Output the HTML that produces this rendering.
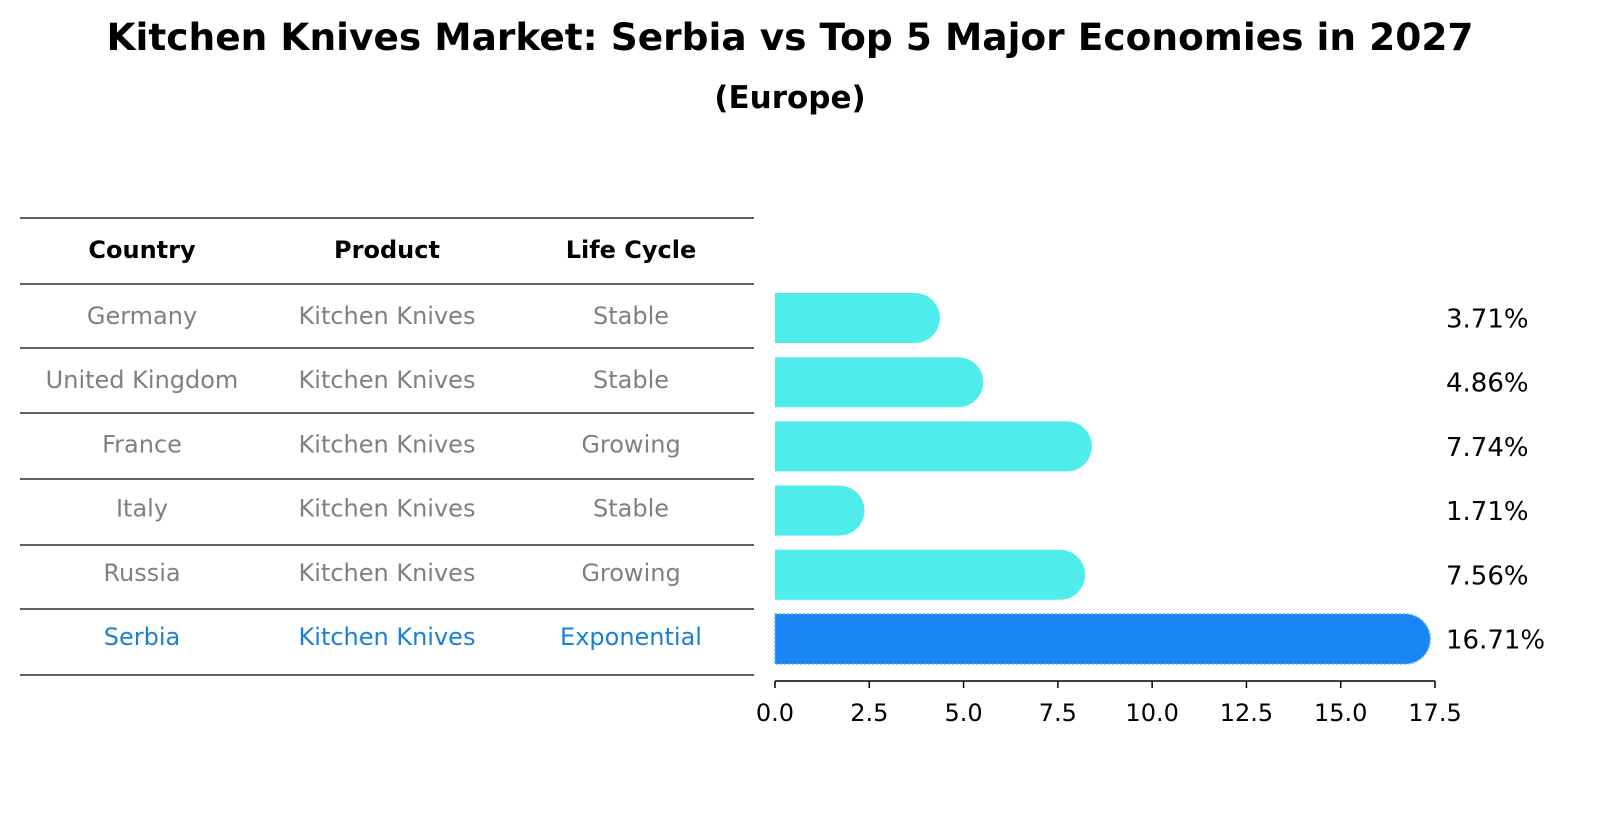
<!DOCTYPE html>
<html><head><meta charset="utf-8"><style>
body{margin:0;background:#fff;font-family:"Liberation Sans","DejaVu Sans",sans-serif}
</style></head><body>
<svg width="1604" height="823" xmlns="http://www.w3.org/2000/svg" font-family="DejaVu Sans, Liberation Sans, sans-serif">
<text x="790" y="50" text-anchor="middle" font-size="37.5" font-weight="bold">Kitchen Knives Market: Serbia vs Top 5 Major Economies in 2027</text>
<text x="790" y="108" text-anchor="middle" font-size="31" font-weight="bold">(Europe)</text>
<g id="table"></g>
<g id="bars"></g>
<g id="axis"></g>
</svg>
<script>
const countries=["Germany","United Kingdom","France","Italy","Russia","Serbia"];
const products=["Kitchen Knives","Kitchen Knives","Kitchen Knives","Kitchen Knives","Kitchen Knives","Kitchen Knives"];
const lifecycles=["Stable","Stable","Growing","Stable","Growing","Exponential"];
const values=[3.71,4.86,7.74,1.71,7.56,16.71];
const ticks=[0,2.5,5,7.5,10,12.5,15,17.5];
const NS="http://www.w3.org/2000/svg";
const x0=775,x1=1435,xmax=17.5;
const xs=v=>x0+(x1-x0)*v/xmax;
const rowY=i=>318+i*64.2;
const barH=50;
function mk(t,a,p){const e=document.createElementNS(NS,t);for(const k in a)e.setAttribute(k,a[k]);p.appendChild(e);return e;}
const tb=document.getElementById('table');
const lines=[218,284,348,413,479,545,609,675];
lines.forEach(y=>{const l=mk('line',{x1:20,x2:754,y1:y,y2:y,stroke:'#000','stroke-width':1.2},tb);

});
const cx=[142,387,631];
["Country","Product","Life Cycle"].forEach((h,j)=>{const t=mk('text',{x:cx[j],y:251,'text-anchor':'middle','font-size':24,'font-weight':'bold','dominant-baseline':'middle'},tb);t.textContent=h;

});
countries.forEach((c,i)=>{const col=i===countries.length-1?'#1a7fd9':'#808080';
[c,products[i],lifecycles[i]].forEach((s,j)=>{const t=mk('text',{x:cx[j],y:rowY(i)-1,'text-anchor':'middle','font-size':24,fill:col,'dominant-baseline':'middle'},tb);t.textContent=s;

});});
const bg=document.getElementById('bars');
values.forEach((v,i)=>{const y=rowY(i)-barH/2;const w=xs(v)-x0;const col=i===values.length-1?'#1a85f5':'#4eeceb';
const p=mk('path',{d:`M${x0},${y}h${w}a${barH/2},${barH/2} 0 0 1 0,${barH}h${-w}z`,fill:col},bg);
if(i===values.length-1){p.setAttribute('stroke','#4ab0ff');p.setAttribute('stroke-width','1.5');p.setAttribute('stroke-dasharray','2 2');}


const t=mk('text',{x:1446,y:rowY(i)+2,'font-size':26,'dominant-baseline':'middle'},bg);t.textContent=v.toFixed(2)+'%';

});
const ax=document.getElementById('axis');
mk('line',{x1:x0,x2:x1,y1:681,y2:681,stroke:'#000','stroke-width':1.5},ax);
ticks.forEach(v=>{mk('line',{x1:xs(v),x2:xs(v),y1:681,y2:688,stroke:'#000','stroke-width':1.5},ax);
const t=mk('text',{x:xs(v),y:721,'text-anchor':'middle','font-size':24},ax);t.textContent=v.toFixed(1);

});
</script>
</body></html>
